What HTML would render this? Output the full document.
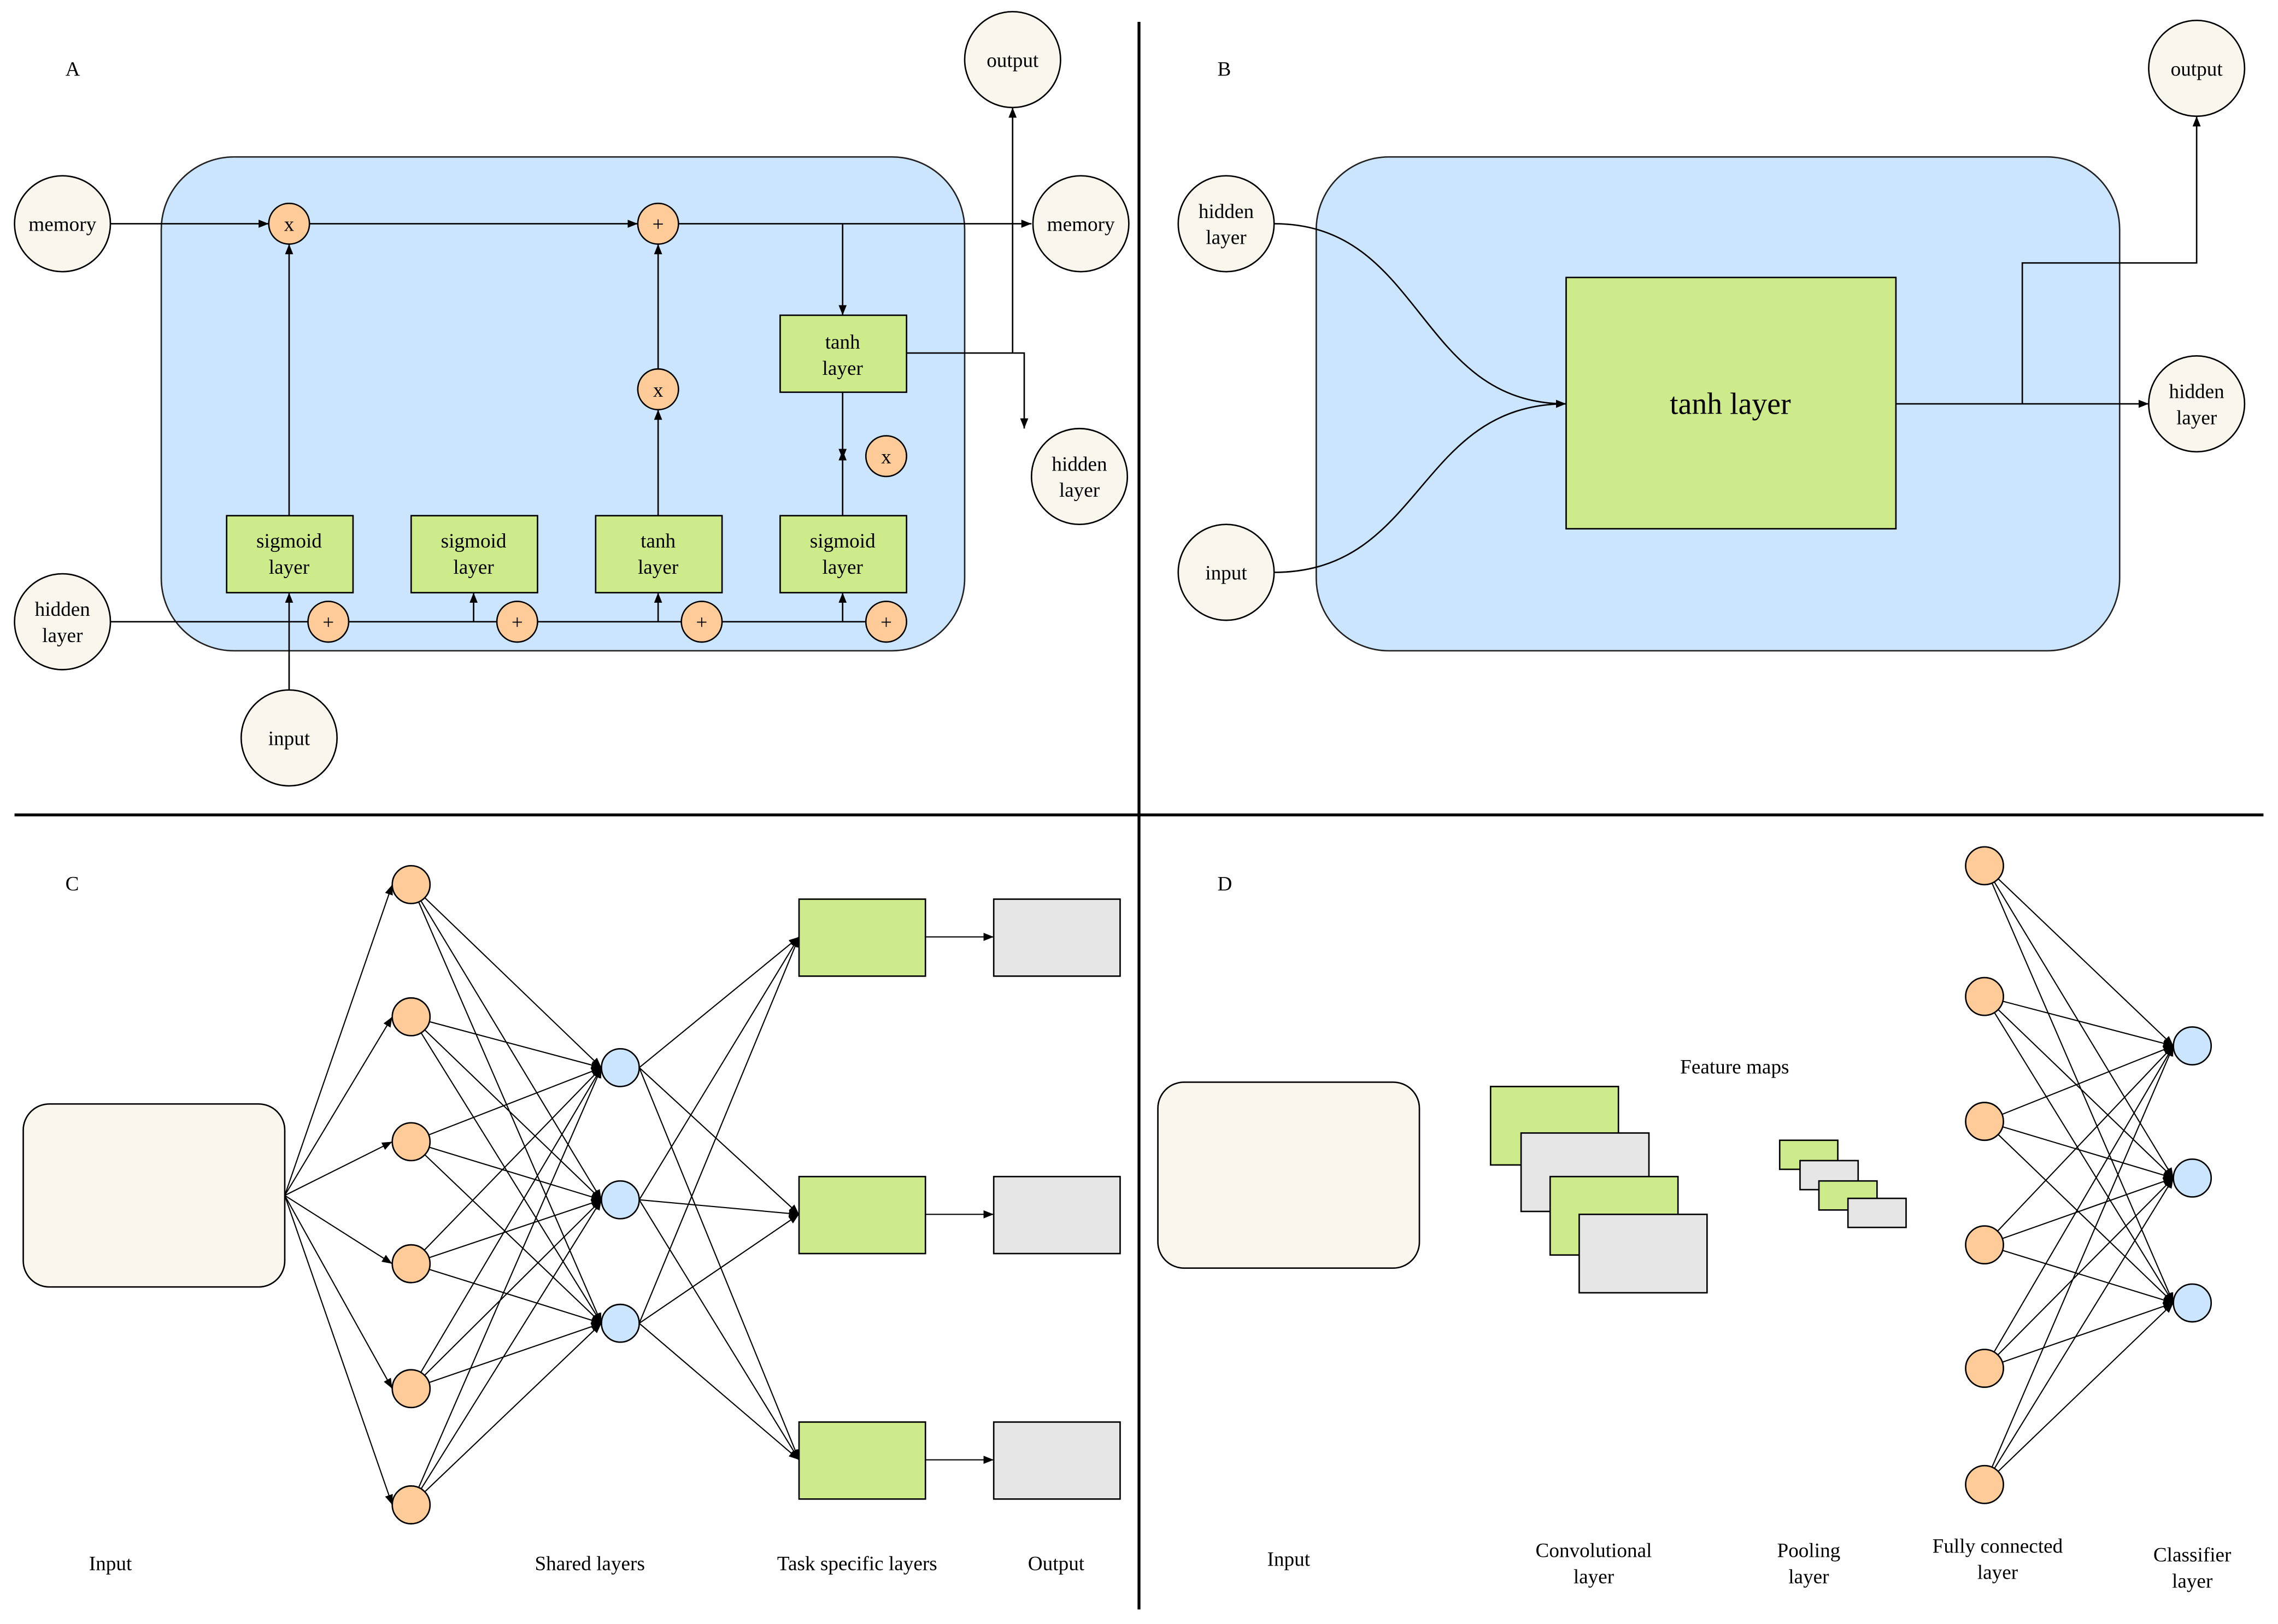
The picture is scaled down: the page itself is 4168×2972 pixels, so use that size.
<!DOCTYPE html>
<html><head><meta charset="utf-8"><style>
html,body{margin:0;padding:0;background:#fff;}
svg{display:block;}
svg text{font-family:"Liberation Serif","DejaVu Serif",serif !important;font-size:14px;fill:#000;}
</style></head><body>
<svg id="s" width="4168" height="2972" viewBox="0 0 1568 1118" xmlns="http://www.w3.org/2000/svg" font-family="Liberation Serif, DejaVu Serif, serif" font-size="14">
<defs>
<marker id="a" viewBox="0 0 10 10" refX="10" refY="5" markerWidth="7" markerHeight="7" orient="auto-start-reverse" markerUnits="userSpaceOnUse"><path d="M0,1 L10,5 L0,9 z" fill="#000"/></marker>
</defs>
<rect width="1568" height="1118" fill="#fff"/>
<g stroke="#000" stroke-width="2">
<line x1="784" y1="15" x2="784" y2="1108"/>
<line x1="10" y1="561" x2="1558" y2="561"/>
</g>
<text x="45" y="52">A</text><text x="838" y="52">B</text><text x="45" y="613">C</text><text x="838" y="613">D</text>

<!-- Panel A -->
<rect x="111" y="108" width="553" height="340" rx="50" fill="#cce5ff" stroke="#222" stroke-width="1"/>
<g stroke="#000" stroke-width="1" fill="none">
<line x1="76" y1="154" x2="185" y2="154" marker-end="url(#a)"/>
<line x1="213" y1="154" x2="439" y2="154" marker-end="url(#a)"/>
<line x1="467" y1="154" x2="710" y2="154" marker-end="url(#a)"/>
<line x1="580" y1="154" x2="580" y2="217" marker-end="url(#a)"/>
<line x1="199" y1="355" x2="199" y2="168" marker-end="url(#a)"/>
<line x1="453" y1="355" x2="453" y2="282" marker-end="url(#a)"/>
<line x1="453" y1="254" x2="453" y2="168" marker-end="url(#a)"/>
<line x1="580" y1="270" x2="580" y2="316" marker-end="url(#a)"/>
<line x1="580" y1="355" x2="580" y2="310" marker-end="url(#a)"/>
<line x1="76" y1="428" x2="596" y2="428"/>
<line x1="326" y1="428" x2="326" y2="408" marker-end="url(#a)"/>
<line x1="453" y1="428" x2="453" y2="408" marker-end="url(#a)"/>
<line x1="580" y1="428" x2="580" y2="408" marker-end="url(#a)"/>
<line x1="199" y1="475" x2="199" y2="408" marker-end="url(#a)"/>
<polyline points="624,243 705,243 705,295" marker-end="url(#a)"/>
<line x1="697" y1="243" x2="697" y2="74" marker-end="url(#a)"/>
</g>
<g stroke="#000" stroke-width="1" fill="#f9f7ed">
<circle cx="43" cy="154" r="33"/><circle cx="744" cy="154" r="33"/>
<circle cx="697" cy="41" r="33"/><circle cx="43" cy="428" r="33"/>
<circle cx="199" cy="508" r="33"/><circle cx="743" cy="328" r="33"/>
</g>
<g stroke="#000" stroke-width="1" fill="#ffcc99">
<circle cx="199" cy="154" r="14"/><circle cx="453" cy="154" r="14"/>
<circle cx="453" cy="268" r="14"/><circle cx="610" cy="314" r="14"/>
<circle cx="226" cy="428" r="14"/><circle cx="356" cy="428" r="14"/>
<circle cx="483" cy="428" r="14"/><circle cx="610" cy="428" r="14"/>
</g>
<g stroke="#000" stroke-width="1" fill="#cdeb8b">
<rect x="156" y="355" width="87" height="53"/><rect x="283" y="355" width="87" height="53"/>
<rect x="410" y="355" width="87" height="53"/><rect x="537" y="355" width="87" height="53"/>
<rect x="537" y="217" width="87" height="53"/>
</g>
<g text-anchor="middle">
<text x="43" y="159">memory</text><text x="744" y="159">memory</text><text x="697" y="46">output</text>
<text x="43" y="424">hidden</text><text x="43" y="442">layer</text>
<text x="743" y="324">hidden</text><text x="743" y="342">layer</text>
<text x="199" y="513">input</text>
<text x="199" y="159">x</text><text x="453" y="159">+</text><text x="453" y="273">x</text><text x="610" y="319">x</text>
<text x="226" y="433">+</text><text x="356" y="433">+</text><text x="483" y="433">+</text><text x="610" y="433">+</text>
<text x="199" y="377">sigmoid</text><text x="199" y="395">layer</text>
<text x="326" y="377">sigmoid</text><text x="326" y="395">layer</text>
<text x="453" y="377">tanh</text><text x="453" y="395">layer</text>
<text x="580" y="377">sigmoid</text><text x="580" y="395">layer</text>
<text x="580" y="240">tanh</text><text x="580" y="258">layer</text>
</g>

<!-- Panel B -->
<rect x="906" y="108" width="553" height="340" rx="50" fill="#cce5ff" stroke="#222" stroke-width="1"/>
<g stroke="#000" stroke-width="1" fill="none">
<path d="M877,154 C980,154 975,278 1078,278" marker-end="url(#a)"/>
<path d="M877,394 C980,394 975,278 1078,278"/>
<line x1="1305" y1="278" x2="1479" y2="278" marker-end="url(#a)"/>
<polyline points="1392,278 1392,181 1512,181 1512,80" marker-end="url(#a)"/>
</g>
<rect x="1078" y="191" width="227" height="173" fill="#cdeb8b" stroke="#000" stroke-width="1"/>
<g stroke="#000" stroke-width="1" fill="#f9f7ed">
<circle cx="844" cy="154" r="33"/><circle cx="844" cy="394" r="33"/>
<circle cx="1512" cy="47" r="33"/><circle cx="1512" cy="278" r="33"/>
</g>
<g text-anchor="middle">
<text x="844" y="150">hidden</text><text x="844" y="168">layer</text>
<text x="844" y="399">input</text><text x="1512" y="52">output</text>
<text x="1512" y="274">hidden</text><text x="1512" y="292">layer</text>
<text x="1191" y="285" style="font-size:21px">tanh layer</text>
</g>

<g id="lines" stroke="#000" stroke-width="0.8" fill="none"></g>
<g id="nodes"></g>

<rect x="16" y="760" width="180" height="126" rx="18" fill="#f9f7ed" stroke="#000" stroke-width="1"/>
<rect x="797" y="745" width="180" height="128" rx="18" fill="#f9f7ed" stroke="#000" stroke-width="1"/>
<g stroke="#000" stroke-width="1">
<rect x="1026" y="748" width="88" height="54" fill="#cdeb8b"/>
<rect x="1047" y="780" width="88" height="54" fill="#e6e6e6"/>
<rect x="1067" y="810" width="88" height="54" fill="#cdeb8b"/>
<rect x="1087" y="836" width="88" height="54" fill="#e6e6e6"/>
<rect x="1225" y="785" width="40" height="20" fill="#cdeb8b"/>
<rect x="1239" y="799" width="40" height="20" fill="#e6e6e6"/>
<rect x="1252" y="813" width="40" height="20" fill="#cdeb8b"/>
<rect x="1272" y="825" width="40" height="20" fill="#e6e6e6"/>
</g>
<g text-anchor="middle">
<text x="76" y="1081">Input</text><text x="406" y="1081">Shared layers</text>
<text x="590" y="1081">Task specific layers</text><text x="727" y="1081">Output</text>
<text x="1194" y="739">Feature maps</text>
<text x="887" y="1078">Input</text>
<text x="1097" y="1072">Convolutional</text><text x="1097" y="1090">layer</text>
<text x="1245" y="1072">Pooling</text><text x="1245" y="1090">layer</text>
<text x="1375" y="1069">Fully connected</text><text x="1375" y="1087">layer</text>
<text x="1509" y="1075">Classifier</text><text x="1509" y="1093">layer</text>
</g>
</svg>
<script>
(function(){
var NS="http://www.w3.org/2000/svg",L=document.getElementById("lines"),N=document.getElementById("nodes");
function ln(x1,y1,x2,y2,arr){var e=document.createElementNS(NS,"line");e.setAttribute("x1",x1);e.setAttribute("y1",y1);e.setAttribute("x2",x2);e.setAttribute("y2",y2);if(arr)e.setAttribute("marker-end","url(#a)");L.appendChild(e);}
function ci(x,y,r,f){var e=document.createElementNS(NS,"circle");e.setAttribute("cx",x);e.setAttribute("cy",y);e.setAttribute("r",r);e.setAttribute("fill",f);e.setAttribute("stroke","#000");e.setAttribute("stroke-width","1");N.appendChild(e);}
function rc(x,y,w,h,f){var e=document.createElementNS(NS,"rect");e.setAttribute("x",x);e.setAttribute("y",y);e.setAttribute("width",w);e.setAttribute("height",h);e.setAttribute("fill",f);e.setAttribute("stroke","#000");e.setAttribute("stroke-width","1");N.appendChild(e);}
var oC=[609,700,786,870,956,1036],bC=[735,826,911],gC=[619,810,979];
oC.forEach(function(y){ln(196,823,270,y,1);});
oC.forEach(function(y){bC.forEach(function(b){ln(283,y,414,b,1);});});
bC.forEach(function(b){gC.forEach(function(g){ln(440,b,550,g+26,1);});});
gC.forEach(function(g){ln(637,g+26,684,g+26,1);});
oC.forEach(function(y){ci(283,y,13,"#ffcc99");});
bC.forEach(function(y){ci(427,y,13,"#cce5ff");});
gC.forEach(function(g){rc(550,g,87,53,"#cdeb8b");rc(684,g,87,53,"#e6e6e6");});
var oD=[596,686,772,857,942,1022],bD=[720,811,897];
oD.forEach(function(y){bD.forEach(function(b){ln(1366,y,1496,b,1);});});
oD.forEach(function(y){ci(1366,y,13,"#ffcc99");});
bD.forEach(function(y){ci(1509,y,13,"#cce5ff");});
})();
</script>
</body></html>
